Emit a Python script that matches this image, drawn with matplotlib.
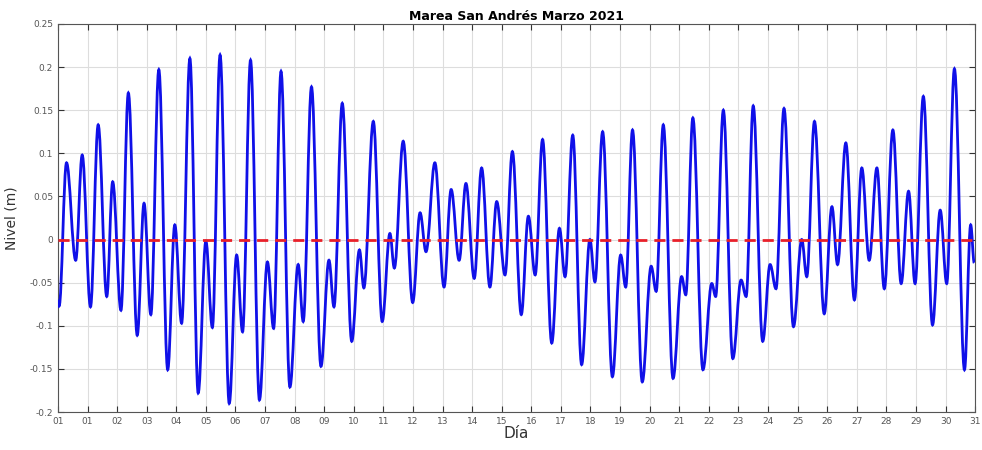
import numpy as np
import matplotlib
matplotlib.use("Agg")
import matplotlib.pyplot as plt
from matplotlib.path import Path
from matplotlib.patches import PathPatch

# high / low water times (days since start of month) and levels (m)
t_ext = [0.00, 0.04, 0.29, 0.60, 0.82, 1.10, 1.36, 1.65, 1.85, 2.13, 2.38, 2.68, 2.91, 3.14,
         3.41, 3.71, 3.95, 4.18, 4.46, 4.74, 5.00, 5.22, 5.48, 5.79, 6.04, 6.24, 6.51, 6.81,
         7.08, 7.29, 7.54, 7.84, 8.12, 8.29, 8.57, 8.89, 9.16, 9.33, 9.61, 9.93, 10.19, 10.34,
         10.66, 10.96, 11.22, 11.37, 11.67, 11.99, 12.24, 12.44, 12.74, 13.05, 13.29, 13.56,
         13.79, 14.07, 14.32, 14.60, 14.83, 15.11, 15.36, 15.66, 15.90, 16.13, 16.38, 16.69,
         16.95, 17.14, 17.40, 17.70, 17.98, 18.15, 18.41, 18.74, 19.02, 19.19, 19.42, 19.75,
         20.05, 20.22, 20.46, 20.79, 21.08, 21.22, 21.46, 21.80, 22.10, 22.23, 22.49, 22.81,
         23.09, 23.26, 23.50, 23.82, 24.07, 24.27, 24.54, 24.86, 25.14, 25.31, 25.57, 25.90,
         26.16, 26.35, 26.63, 26.92, 27.17, 27.42, 27.68, 27.93, 28.22, 28.50, 28.75, 28.97,
         29.25, 29.56, 29.82, 30.04, 30.30, 30.64, 30.85, 30.97]
nivel = [-0.070, -0.077, 0.089, -0.024, 0.098, -0.078, 0.133, -0.066, 0.067, -0.082, 0.170, -0.111,
         0.042, -0.087, 0.197, -0.151, 0.017, -0.097, 0.210, -0.178, -0.002, -0.102, 0.214,
         -0.190, -0.018, -0.107, 0.208, -0.186, -0.026, -0.103, 0.195, -0.171, -0.029, -0.095,
         0.177, -0.147, -0.024, -0.078, 0.158, -0.118, -0.012, -0.056, 0.137, -0.095, 0.007,
         -0.033, 0.114, -0.073, 0.031, -0.014, 0.089, -0.055, 0.058, -0.024, 0.065, -0.045,
         0.083, -0.055, 0.044, -0.041, 0.102, -0.087, 0.027, -0.041, 0.116, -0.120, 0.013,
         -0.043, 0.121, -0.145, 0.000, -0.049, 0.125, -0.159, -0.018, -0.055, 0.127, -0.165,
         -0.031, -0.060, 0.133, -0.161, -0.043, -0.064, 0.141, -0.151, -0.051, -0.066, 0.150,
         -0.138, -0.047, -0.066, 0.155, -0.118, -0.029, -0.057, 0.152, -0.101, 0.000, -0.043,
         0.137, -0.086, 0.038, -0.029, 0.112, -0.070, 0.083, -0.024, 0.083, -0.057, 0.127,
         -0.051, 0.056, -0.051, 0.166, -0.099, 0.034, -0.051, 0.198, -0.151, 0.017, -0.027]

dias = list(range(0, 32))
dia_labels = ["01"] + ["%02d" % d for d in range(1, 32)]
yticks = [-0.2, -0.15, -0.1, -0.05, 0, 0.05, 0.1, 0.15, 0.2, 0.25]

fig = plt.figure(figsize=(9.82, 4.5), dpi=100)
ax = fig.add_axes([0.059, 0.0844, 0.934, 0.8623])

# smooth tide curve: cubic segments with flat tangents at each high/low
verts = [(t_ext[0], nivel[0])]
codes = [Path.MOVETO]
for i in range(1, len(t_ext)):
    x0, y0 = t_ext[i - 1], nivel[i - 1]
    x1, y1 = t_ext[i], nivel[i]
    dx = x1 - x0
    verts += [(x0 + 0.37 * dx, y0), (x1 - 0.37 * dx, y1), (x1, y1)]
    codes += [Path.CURVE4] * 3
ax.add_patch(PathPatch(Path(verts, codes), facecolor="none", edgecolor="#1010e8",
                       lw=2.0, zorder=3))

ax.axhline(0, color="#e8202a", lw=2.0, ls=(0, (4, 2.5)), zorder=4)

ax.set_xlim(0, 31)
ax.set_ylim(-0.2, 0.25)
ax.set_xticks(dias)
ax.set_xticklabels(dia_labels)
ax.set_yticks(yticks)
ax.set_yticklabels(["%g" % v for v in yticks])
ax.grid(True, color="#dddddd", lw=0.8)
ax.set_axisbelow(True)
ax.tick_params(direction="in", top=True, right=True, length=4, labelsize=6.5,
               colors="#333333", labelcolor="#555555")
for s in ax.spines.values():
    s.set_color("#555555")
    s.set_linewidth(0.8)

ax.set_title("Marea San Andrés Marzo 2021", fontsize=9, fontweight="bold", pad=3)
ax.set_xlabel("Día", fontsize=11, color="#333333", labelpad=0)
ax.set_ylabel("Nivel (m)", fontsize=10, color="#333333", labelpad=8)

fig.savefig("out.png", dpi=100)
